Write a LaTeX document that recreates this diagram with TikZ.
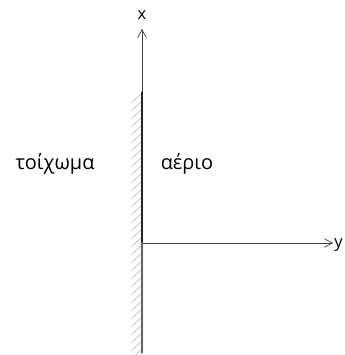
\documentclass[tikz,border=0pt]{standalone}
\usepackage{fontspec}
\setmainfont{Open Sans}
\usetikzlibrary{arrows.meta}

\begin{document}
\begin{tikzpicture}[x=0.03cm,y=-0.03cm,>={Straight Barb[length=2.4mm,width=2.6mm]},line cap=round,
  axis/.style={black!75,line width=0.6pt},
  wall/.style={black!85,line width=1.2pt},
  hatch/.style={gray!55,line width=0.5pt},
  lbl/.style={font=\fontsize{17}{20}\selectfont}]
\useasboundingbox (0,0) rectangle (345,355);
% hatching of the wall
\foreach \h in {94,102,...,350}
  \draw[hatch] (131,\h+9) -- (141,\h);
% axes
\coordinate (o) at (142,243);
\coordinate (xtip) at (142,29);
\coordinate (ytip) at (333,243);
\coordinate (wtop) at (142,92);
\coordinate (wbot) at (142,353);
\draw[axis,->] (o) -- (xtip);
\draw[axis,->] (o) -- (ytip);
\draw[wall] (wtop) -- (o);
\draw[wall,black!60] (o) -- (wbot);
\node[lbl,font=\fontsize{14}{16}\selectfont] (xl) at (142,15) {x};
\node[lbl,font=\fontsize{14}{16}\selectfont,anchor=west,inner sep=1pt] (yl) at (333,245) {y};
% media
\node[lbl] (wallname) at (55,164) {τοίχωμα};
\node[lbl] (gasname) at (187,164) {αέριο};
\end{tikzpicture}
\end{document}
